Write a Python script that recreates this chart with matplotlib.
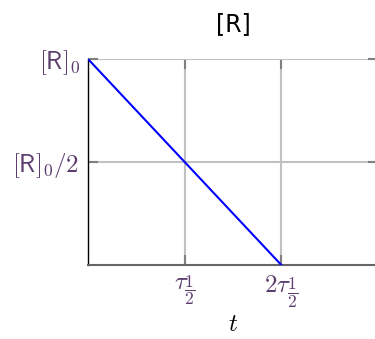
import matplotlib
matplotlib.use('Agg')
import matplotlib.pyplot as plt

plt.rcParams['mathtext.fontset'] = 'cm'

# zero-order decay: [R] falls linearly, hits zero at 2 half-lives
t_vals = [0, 2]
R_vals = [1, 0]

x_ticks = [1, 2]
x_labels = [r'$\tau_{\dfrac{1}{2}}$', r'$2\tau_{\dfrac{1}{2}}$']
y_ticks = [0.5, 1]
y_labels = [r'$[\mathsf{R}]_0/2$', r'$[\mathsf{R}]_0$']

purple = '#5c3d6e'

fig = plt.figure(figsize=(3.75, 3.39), dpi=100)
ax = fig.add_axes([88/375, 74/339, 290/375, 206/339])

ax.plot(t_vals, R_vals, color='#0000ff', lw=1.5, zorder=3)

ax.set_xlim(0, 3)
ax.set_ylim(0, 1)
ax.set_xticks(x_ticks)
ax.set_xticklabels(x_labels)
ax.set_yticks(y_ticks)
ax.set_yticklabels(y_labels)

ax.grid(True, color='#c0c0c0', lw=1.5)
ax.tick_params(direction='in', length=7, width=1.5, color='#808080',
               top=True, right=True, labelsize=18, labelcolor=purple, pad=6)

for s in ['top', 'right']:
    ax.spines[s].set_visible(False)
ax.spines['left'].set_color('black')
ax.spines['left'].set_linewidth(1)
ax.spines['bottom'].set_color('#666666')
ax.spines['bottom'].set_linewidth(1.5)

ax.set_title('[R]', fontsize=17, pad=20)
ax.set_xlabel('$t$', fontsize=18, labelpad=2)

fig.savefig('out.png', dpi=100)
